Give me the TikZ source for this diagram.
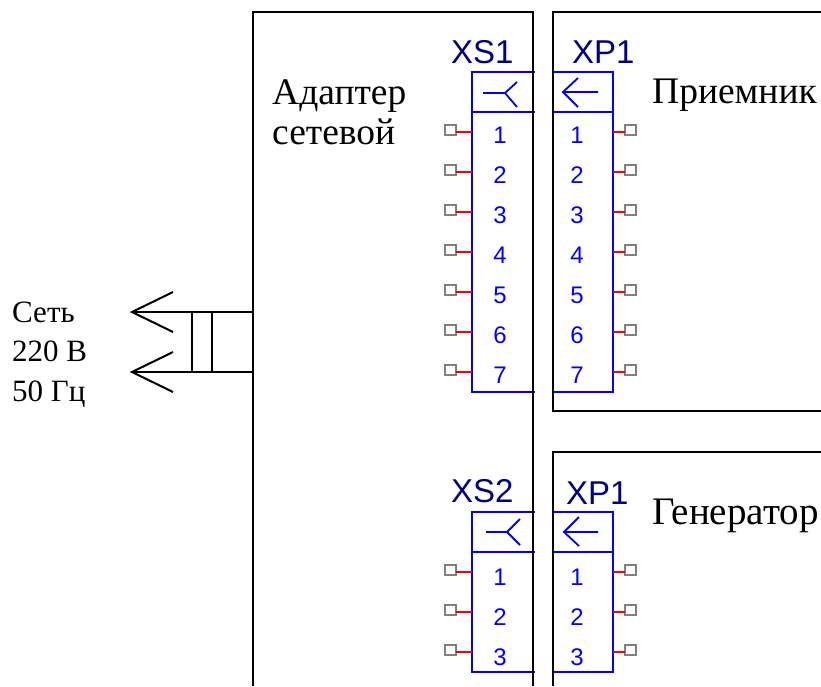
\documentclass[tikz,border=0pt]{standalone}
\usepackage{fontspec}
\setmainfont{Liberation Serif}
\newfontfamily\arialf{Liberation Sans}
\tikzset{
  x=1pt,y=-1pt,
  blk/.style={draw=black,line width=2pt},
  blu/.style={draw=blue!95!black,line width=1.8pt},
  wire/.style={draw=red,line width=1.8pt},
  pinbox/.style={draw=gray,line width=1.8pt,fill=white,minimum size=10.5pt,inner sep=0pt,outer sep=0pt},
  num/.style={text=blue,font=\arialf\fontsize{24}{24}\selectfont,anchor=base,inner sep=0pt},
  refdes/.style={text=blue!50!black,font=\arialf\fontsize{33}{33}\selectfont,anchor=base west,inner sep=0pt},
  title/.style={text=black,font=\fontsize{37.5}{37.5}\selectfont,anchor=base west,inner sep=0pt},
  mains/.style={text=black,font=\fontsize{31}{31}\selectfont,anchor=base west,inner sep=0pt}
}
\begin{document}
\begin{tikzpicture}
\useasboundingbox (0,0) rectangle (821,686);
% connector blocks: name, top y, pins, digit offset
\newcommand{\blockL}[4]{%
  \draw[blu] (535,#2) -- (472,#2) -- (472,#2+40+40*#3) -- (535,#2+40+40*#3);
  \draw[blu] (472,#2+40) -- (535,#2+40);
  \foreach \i in {1,...,#3}{
    \node[pinbox] (#1p\i) at (450.5,#2+18+40*\i) {};
    \coordinate (#1e\i) at (472,#2+20+40*\i);
    \draw[wire] (#1p\i.east |- #1e\i) -- (#1e\i);
    \node[num] (#1n\i) at (500,#2+#4+40*\i) {\i};
  }
}
\newcommand{\blockR}[4]{%
  \draw[blu] (553,#2) rectangle (613,#2+40+40*#3);
  \draw[blu] (553,#2+40) -- (613,#2+40);
  \foreach \i in {1,...,#3}{
    \node[pinbox] (#1p\i) at (630.5,#2+18+40*\i) {};
    \coordinate (#1e\i) at (613,#2+20+40*\i);
    \draw[wire] (#1e\i) -- (#1p\i.west |- #1e\i);
    \node[num] (#1n\i) at (577,#2+#4+40*\i) {\i};
  }
}
\blockL{sa}{72}{7}{31}
\blockR{pa}{72}{7}{31}
\blockL{sb}{512}{3}{33}
\blockR{pb}{512}{3}{33}
% contact symbols
\draw[blu] (483,93) -- (505,93) (517,82) -- (505,93) -- (517,107);
\draw[blu] (578,78) -- (563,92) -- (578,107) (563,92) -- (598,92);
\draw[blu] (486,532) -- (507,532) (520,519) -- (507,532) -- (520,545);
\draw[blu] (579,517) -- (564,532) -- (579,546) (564,532) -- (598,532);
% enclosures
\draw[blk] (253,686) -- (253,12) -- (533,12) -- (533,686);
\draw[blk] (821,12) -- (553,12) -- (553,411) -- (821,411);
\draw[blk] (821,452) -- (553,452) -- (553,686);
% mains plug
\coordinate (ta) at (132,312);
\coordinate (tb) at (132,372);
\coordinate (wa) at (253,312);
\coordinate (wb) at (253,372);
\draw[blk] (ta) -- (wa) (tb) -- (wb);
\draw[blk] (173,292) -- (ta) -- (173,332);
\draw[blk] (173,352) -- (tb) -- (173,392);
\draw[blk] (192,312) -- (192,372) (212,312) -- (212,372);
% labels
\node[refdes] (xs1) at (451,63) {XS1};
\node[refdes] (xp1) at (572,63) {XP1};
\node[refdes] (xs2) at (451,502) {XS2};
\node[refdes] (xp2) at (566,504) {XP1};
\node[title] (ad) at (272,104) {Адаптер};
\node[title] (se) at (272,144) {сетевой};
\node[title] (pr) at (652,103) {Приемник};
\node[title,font=\fontsize{39}{39}\selectfont] (ge) at (652,524) {Генератор};
\node[mains] (m1) at (12,322) {Сеть};
\node[mains] (m2) at (12,361) {220 В};
\node[mains] (m3) at (12,401) {50 Гц};
\end{tikzpicture}
\end{document}
